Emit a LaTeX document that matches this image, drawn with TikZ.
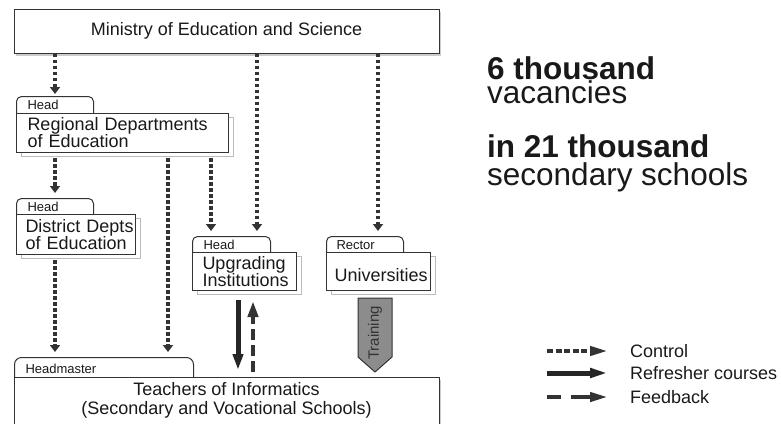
\documentclass[tikz,border=0pt]{standalone}
\usepackage{fontspec}
\setmainfont{Liberation Sans}
\usetikzlibrary{arrows.meta,shadows}
\definecolor{linegray}{HTML}{333333}
\definecolor{shadegray}{HTML}{BBBBBB}
\definecolor{blockgray}{HTML}{8C8C8C}
\hfuzz=30pt
\hyphenpenalty=10000
\tikzset{
every node/.style={inner sep=0pt, text=black!90},
box/.style={draw=linegray, fill=white, line width=1pt, font=\fontsize{18}{17}\selectfont},
folder/.style={box, anchor=north west, align=left, inner xsep=11pt,
  general shadow={shadow xshift=5pt, shadow yshift=-4pt, fill=white, draw=shadegray, line width=1pt}},
tab/.style={draw=linegray, fill=white, line width=1pt, rounded corners=5pt, anchor=north west,
  align=left, inner xsep=11pt, inner ysep=3pt, text height=9.5pt, text depth=9.5pt,
  font=\fontsize{13}{13}\selectfont},
softshadow/.style={drop shadow={shadow xshift=2pt, shadow yshift=-2.5pt, opacity=0.4}},
control/.style={draw=linegray, line width=4pt, dash pattern=on 3.5pt off 2.5pt,
  shorten >=5pt, -{Triangle[width=10pt,length=7pt]}},
refresher/.style={draw=black!85, line width=5pt, -{Triangle[width=10pt,length=16pt]}},
feedback/.style={draw=black!80, line width=4pt, dash pattern=on 11pt off 5pt,
  -{Triangle[width=10pt,length=16pt]}},
block/.style={draw=linegray, fill=blockgray, line width=1pt, line join=round},
legend/.style={anchor=west, font=\fontsize{18}{18}\selectfont},
bignum/.style={anchor=base west, font=\fontsize{31.5}{30}\selectfont\bfseries},
bigword/.style={anchor=base west, font=\fontsize{31.5}{30}\selectfont}
}

\begin{document}
\begin{tikzpicture}[x=1pt,y=-1pt]
\useasboundingbox (0,0) rectangle (781,423);

\node[box, softshadow, minimum width=425pt, minimum height=44pt] (ministry) at (226.5,31) {Ministry of Education and Science};

\node[tab, text width=55pt] (regtab) at (16,96) {Head};
\node[folder, text width=190pt, minimum height=39pt] (regional) at (16,113) {Regional Departments\\of Education};

\node[tab, text width=55pt] (distab) at (16,198) {Head};
\node[folder, text width=101pt, inner xsep=9pt, minimum height=40pt] (district) at (16,214) {District~Depts\\of~Education};

\node[tab, text width=56pt] (upgtab) at (192,236) {Head};
\node[folder, text width=84pt, inner xsep=10pt, minimum height=38pt] (upgrading) at (192,252) {Upgrading\\Institutions};

\node[tab, text width=57pt, inner xsep=10pt] (unitab) at (326,236) {Rector};
\node[folder, text width=88pt, inner xsep=8pt, minimum height=38pt, text height=20pt] (universities) at (326,252) {Universities};

\node[tab, text width=157pt, inner ysep=6.5pt, rounded corners=7pt] (headtab) at (14,357) {Headmaster};
\node[box, softshadow, anchor=north, minimum width=425pt, minimum height=52pt, align=center,
  font=\fontsize{18}{19}\selectfont, text depth=10pt] (teachers) at (226.5,377) {Teachers of Informatics\\(Secondary and Vocational Schools)};

\draw[control, shorten >=2pt] (ministry.south -| 55,0) -- (regtab.north -| 55,0);
\draw[control] (ministry.south -| 257,0) -- (upgtab.north -| 257,0);
\draw[control] (ministry.south -| 378,0) -- (unitab.north -| 378,0);
\draw[control, shorten <=5pt] (regional.south -| 55,0) -- (distab.north -| 55,0);
\draw[control, shorten <=5pt] (regional.south -| 168,0) -- (headtab.north -| 168,0);
\draw[control, shorten <=5pt] (regional.south -| 211,0) -- (upgtab.north -| 211,0);
\draw[control, shorten <=5pt] (district.south -| 55,0) -- (headtab.north -| 55,0);

\draw[refresher, shorten <=9pt, shorten >=7pt] (upgrading.south -| 238,0) -- (teachers.north -| 238,0);
\draw[feedback, shorten <=5pt, shorten >=10pt] (teachers.north -| 253,0) -- (upgrading.south -| 253,0);

\draw[block] (358,298) -- (392,298) -- (392,357) -- (375,372) -- (358,357) -- cycle;
\node[rotate=90, font=\fontsize{15}{15}\selectfont, text=black!80] (training) at (375,333) {Training};

\node[bignum] (vacnum) at (487,79) {6 thousand};
\node[bigword] (vacword) at (487,103) {vacancies};
\node[bignum] (schoolnum) at (487,157) {in 21 thousand};
\node[bigword] (schoolword) at (487,185) {secondary schools};

\coordinate (ctlA) at (547,351);
\coordinate (ctlB) at (608,351);
\coordinate (refA) at (547,373);
\coordinate (refB) at (608,373);
\coordinate (fbA) at (547,397);
\coordinate (fbB) at (608,397);
\draw[control, shorten >=0pt, dash pattern=on 6pt off 2.5pt, -{Triangle[width=9pt,length=18pt]}] (ctlA) -- (ctlB);
\draw[refresher, -{Triangle[width=9pt,length=18pt]}] (refA) -- (refB);
\draw[feedback, dash pattern=on 14pt off 10pt on 40pt off 1pt, -{Triangle[width=9pt,length=18pt]}] (fbA) -- (fbB);
\node[legend] (ctltext) at (630,351) {Control};
\node[legend] (reftext) at (630,373) {Refresher courses};
\node[legend] (fbtext) at (630,397) {Feedback};

\end{tikzpicture}
\end{document}
